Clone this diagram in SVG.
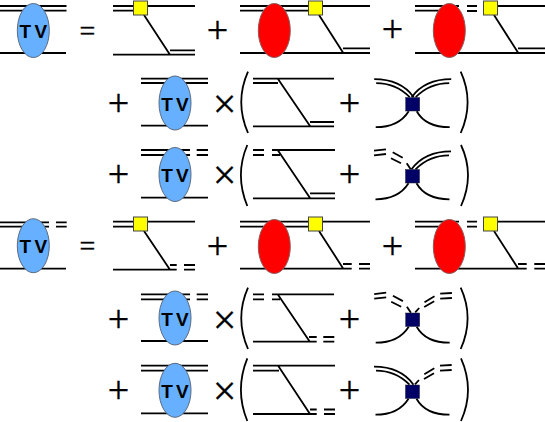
<svg xmlns="http://www.w3.org/2000/svg" width="545" height="422" viewBox="0 0 545 422">
<style>
.l{fill:none;stroke:#000;stroke-width:1.8}
.tv{fill:#66b0ff;stroke:#5a6a80;stroke-width:1}
.red{fill:#f00;stroke:#8a5a5a;stroke-width:1}
.y{fill:#ff0;stroke:#444;stroke-width:1}
.j{fill:#000066;stroke:#223;stroke-width:.5}
.t{font:bold 19px "Liberation Sans",Arial,sans-serif;text-anchor:middle;fill:#000;word-spacing:-2px}
.p{font:38px "Liberation Serif","Times New Roman",serif;text-anchor:middle;fill:#000;stroke:#000;stroke-width:.35}
.x{font:42px "Liberation Serif","Times New Roman",serif;text-anchor:middle;fill:#000;stroke:#000;stroke-width:.35}
.e{font:28px "Liberation Serif","Times New Roman",serif;text-anchor:middle;fill:#000;stroke:#000;stroke-width:.35}
</style>
<defs>
<g id="lowcurves"><path class="l" d="M-37 23Q-14 23-4 7M4 7Q13 23 37 23"/></g>
<g id="updoubleL"><path class="l" d="M-38.5 -25Q-12 -25 1 -7M-36.5 -21Q-17 -21 -3 -7"/></g>
<g id="updoubleR"><path class="l" d="M38.5 -25Q12 -25 -1 -7M36.5 -21Q17 -21 3 -7"/></g>
<g id="updashL"><path class="l" d="M-38.5 -25.6L-26.5 -27M-38.5 -21L-26.5 -22.3M-19.8 -24L-9.8 -18.6M-21.5 -18L-11.5 -13M-5.8 -13L-1.8 -7"/></g>
<g id="updashR"><path class="l" d="M2.5 -7.4L6.5 -11.7M11.8 -17.4L21.8 -23.4M11.5 -12.7L21.5 -18.4M27.5 -26L39.2 -26.7M27.5 -21L39.2 -21.7"/></g>
</defs>
<g id="connectors">
<path class="l" d="M0 6H66.5M0 10.7H66.5M0 53H66"/>
<path class="l" d="M113 6H195M113 10.7H135M144 15L170 54.7M113 54.7H195M170 50.3H195"/>
<path class="l" d="M240 6H370M240 10.7H310M240 53H370M319 15L343.3 53M343 48.3H370"/>
<path class="l" d="M415 6H459M415 10.7H445M415 53H545M467 6H477M467 11H477M498 6H545M494 15L518.3 53M518 48.3H545"/>
<path class="l" d="M141 78.7H208M141 83H208M141 125.7H208"/>
<path class="l" d="M253 78.7H334M253 83H278M278 79L310 126M253 126.3H334M310 122H334"/>
<path class="l" d="M141 150H190M141 155H190M196.7 150H208M196.7 155H208M141 197.7H208"/>
<path class="l" d="M253 150H264M253 155H264M272 150H335M272 155H280M278 150.5L310 198M253 198.3H335M310 193.3H335"/>
<path class="l" d="M0 222.3H49M0 226.7H49M56 222.3H66.7M56 226.7H66.7M0 268.7H66"/>
<path class="l" d="M113 221.7H195M113 226.7H135M144 231L170 269.7M113 269.7H176.7M170 265H176.7M184 265H195M184 269.7H195"/>
<path class="l" d="M240 221.7H370M240 226.7H310M319 231L343.3 268.7M240 268.7H351.7M343 264H351.7M359 264H370M359 268.7H370"/>
<path class="l" d="M415 221.7H459M415 226.7H445M467 221.7H477M467 226.7H477M498 221.7H545M494 231L518.3 268.7M415 268.7H526.7M518 264H526.7M534.3 264H545M534.3 268.7H545"/>
<path class="l" d="M141 294.3H190M141 299.3H190M196.7 294.3H208M196.7 299.3H208M141 341H208"/>
<path class="l" d="M253 294.3H264M253 299.3H264M272 294.3H334M272 299.3H280M278 294.7L310 342M253 341.7H316.7M309 337H316.7M323.3 337H334.3M323.3 341.7H334.3"/>
<path class="l" d="M141 365.7H208M141 370.7H208M141 413.3H208"/>
<path class="l" d="M253 365.7H335M253 370.7H279M278.3 366L310 414M253 414H316.7M310 409.5H316.7M324 409.5H335M324 414H335"/>
<path class="l" d="M248 71.7Q234.5 102 248 133M460.7 71.7Q474.5 102 460.7 133M247.3 145Q234.5 175 247.3 206M461 145Q475 175 461 206M248 287.7Q234.5 318 248 349M460.7 287.7Q474.5 318 460.7 349M247.3 358.3Q234.5 390 247.3 421M461 358.3Q475 390 461 421"/>
<use href="#lowcurves" x="412.7" y="104.2"/><use href="#updoubleL" x="412.7" y="104.2"/><use href="#updoubleR" x="412.7" y="104.2"/>
<use href="#lowcurves" x="412.5" y="176.3"/><use href="#updashL" x="412.5" y="176.3"/><use href="#updoubleR" x="412.5" y="176.3"/>
<use href="#lowcurves" x="412.7" y="319.7"/><use href="#updashL" x="412.7" y="319.7"/><use href="#updashR" x="412.7" y="319.7"/>
<use href="#lowcurves" x="412.5" y="391.7"/><use href="#updoubleL" x="412.5" y="391.7"/><use href="#updashR" x="412.5" y="391.7"/>
</g>
<g id="tv1"><ellipse class="tv" cx="33.3" cy="30.5" rx="16" ry="27"/><text class="t" x="33.3" y="38">T V</text></g>
<g id="tv2"><ellipse class="tv" cx="175" cy="103" rx="16" ry="27"/><text class="t" x="175" y="110.5">T V</text></g>
<g id="tv3"><ellipse class="tv" cx="175" cy="174.5" rx="16" ry="27"/><text class="t" x="175" y="182">T V</text></g>
<g id="tv4"><ellipse class="tv" cx="33.3" cy="245.7" rx="16" ry="27"/><text class="t" x="33.3" y="253">T V</text></g>
<g id="tv5"><ellipse class="tv" cx="175" cy="318" rx="16" ry="27"/><text class="t" x="175" y="325.5">T V</text></g>
<g id="tv6"><ellipse class="tv" cx="175" cy="390.3" rx="16" ry="27"/><text class="t" x="175" y="398">T V</text></g>
<g id="red1"><ellipse class="red" cx="274.3" cy="30.5" rx="16" ry="27"/></g>
<g id="red2"><ellipse class="red" cx="449.3" cy="30.5" rx="16" ry="27"/></g>
<g id="red3"><ellipse class="red" cx="274.3" cy="246.5" rx="16" ry="27"/></g>
<g id="red4"><ellipse class="red" cx="449.3" cy="246.5" rx="16" ry="27"/></g>
<g id="vertex1"><rect class="y" x="133.5" y="1" width="14" height="14"/></g>
<g id="vertex2"><rect class="y" x="308.5" y="1" width="14" height="14"/></g>
<g id="vertex3"><rect class="y" x="483.5" y="1" width="14" height="14"/></g>
<g id="vertex4"><rect class="y" x="133.5" y="217" width="14" height="14"/></g>
<g id="vertex5"><rect class="y" x="308.5" y="217" width="14" height="14"/></g>
<g id="vertex6"><rect class="y" x="483.5" y="217" width="14" height="14"/></g>
<g id="junction1"><rect class="j" x="405.7" y="97.5" width="14" height="13.5"/></g>
<g id="junction2"><rect class="j" x="405.5" y="169.5" width="14" height="13.5"/></g>
<g id="junction3"><rect class="j" x="405.7" y="313" width="14" height="13.5"/></g>
<g id="junction4"><rect class="j" x="405.5" y="385" width="14" height="13.5"/></g>
<g id="operators">
<text class="e" x="87.5" y="40">=</text>
<text class="e" x="87.5" y="255">=</text>
<text class="p" x="217.5" y="43">+</text><text class="p" x="392.5" y="41.5">+</text>
<text class="p" x="118.5" y="116">+</text><text class="p" x="349.5" y="115.5">+</text>
<text class="p" x="118.5" y="187">+</text><text class="p" x="349.5" y="187">+</text>
<text class="p" x="217.5" y="259">+</text><text class="p" x="392.5" y="258.5">+</text>
<text class="p" x="118.5" y="332">+</text><text class="p" x="349.5" y="331.5">+</text>
<text class="p" x="118.5" y="403">+</text><text class="p" x="349.5" y="403">+</text>
<text class="x" x="224.5" y="117.5">×</text><text class="x" x="224.5" y="188.5">×</text><text class="x" x="224.5" y="333.5">×</text><text class="x" x="224.5" y="404.5">×</text>
</g>
</svg>
